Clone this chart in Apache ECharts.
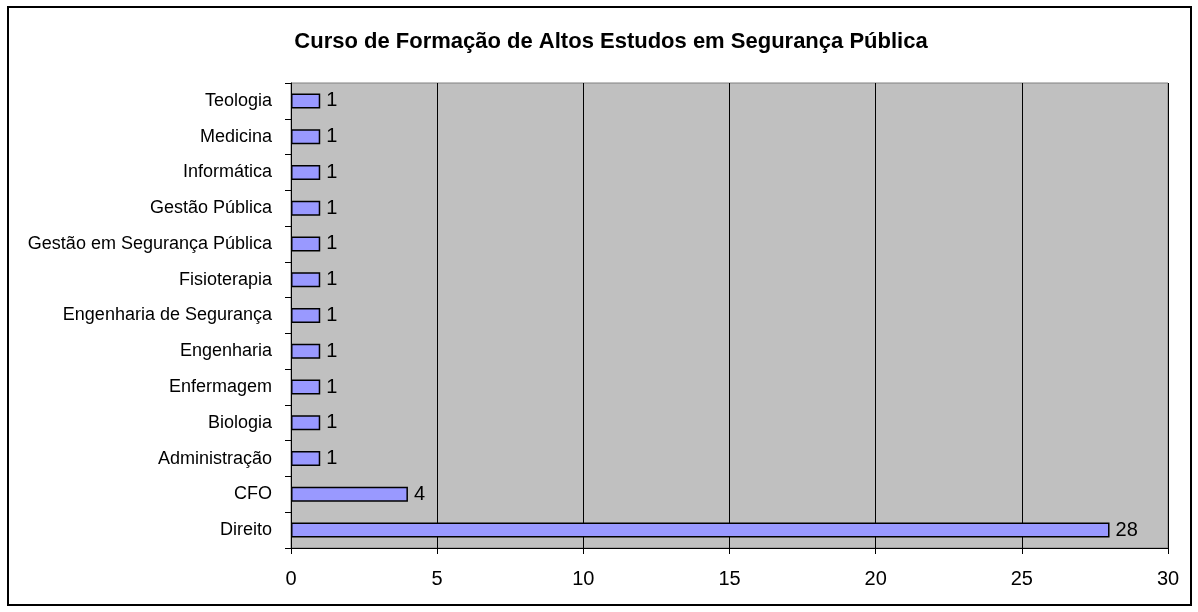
<!DOCTYPE html>
<html><head><meta charset="utf-8">
<script src="https://cdn.jsdelivr.net/npm/echarts@6/dist/echarts.min.js"></script>
<style>html,body{margin:0;padding:0;background:#fff}#c{width:1198px;height:612px}
#frame{position:absolute;left:7px;top:6px;width:1181px;height:596px;border:2px solid #000;pointer-events:none}</style>
</head><body><div id="c"></div><div id="frame"></div>
<script>
const categories = ["Direito","CFO","Administração","Biologia","Enfermagem","Engenharia","Engenharia de Segurança","Fisioterapia","Gestão em Segurança Pública","Gestão Pública","Informática","Medicina","Teologia"];
const values = [28,4,1,1,1,1,1,1,1,1,1,1,1];
const xTicks = [0,5,10,15,20,25,30];
const title = "Curso de Formação de Altos Estudos em Segurança Pública";
const chart = echarts.init(document.getElementById('c'), null, {renderer:'canvas'});
const font = '"Liberation Sans", Arial, sans-serif';
chart.setOption({
  animation:false,
  title:{text:title,left:606,textAlign:'center',top:26,textStyle:{fontFamily:font,fontSize:22,fontWeight:'bold',color:'#000'}},
  grid:{left:291,right:30,top:83,bottom:64,show:true,backgroundColor:'#C0C0C0',borderColor:'#808080',borderWidth:1},
  xAxis:{type:'value',min:xTicks[0],max:xTicks[xTicks.length-1],interval:5,
    axisLine:{show:true,lineStyle:{color:'#000',width:1}},
    axisTick:{show:true,length:6,lineStyle:{color:'#000'}},
    axisLabel:{fontFamily:font,fontSize:20,color:'#000',margin:21},
    splitLine:{show:true,lineStyle:{color:'#000',width:1}}},
  yAxis:{type:'category',data:categories,
    axisLine:{show:true,lineStyle:{color:'#000',width:1}},
    axisTick:{show:true,length:6,lineStyle:{color:'#000'}},
    axisLabel:{fontFamily:font,fontSize:18,color:'#000',margin:19}},
  series:[{type:'bar',data:values,barWidth:15,
    itemStyle:{color:'#9999FF',borderColor:'#000',borderWidth:1.5},
    label:{show:true,position:'right',distance:6,fontFamily:font,fontSize:20,color:'#000'}}]
});
</script></body></html>
